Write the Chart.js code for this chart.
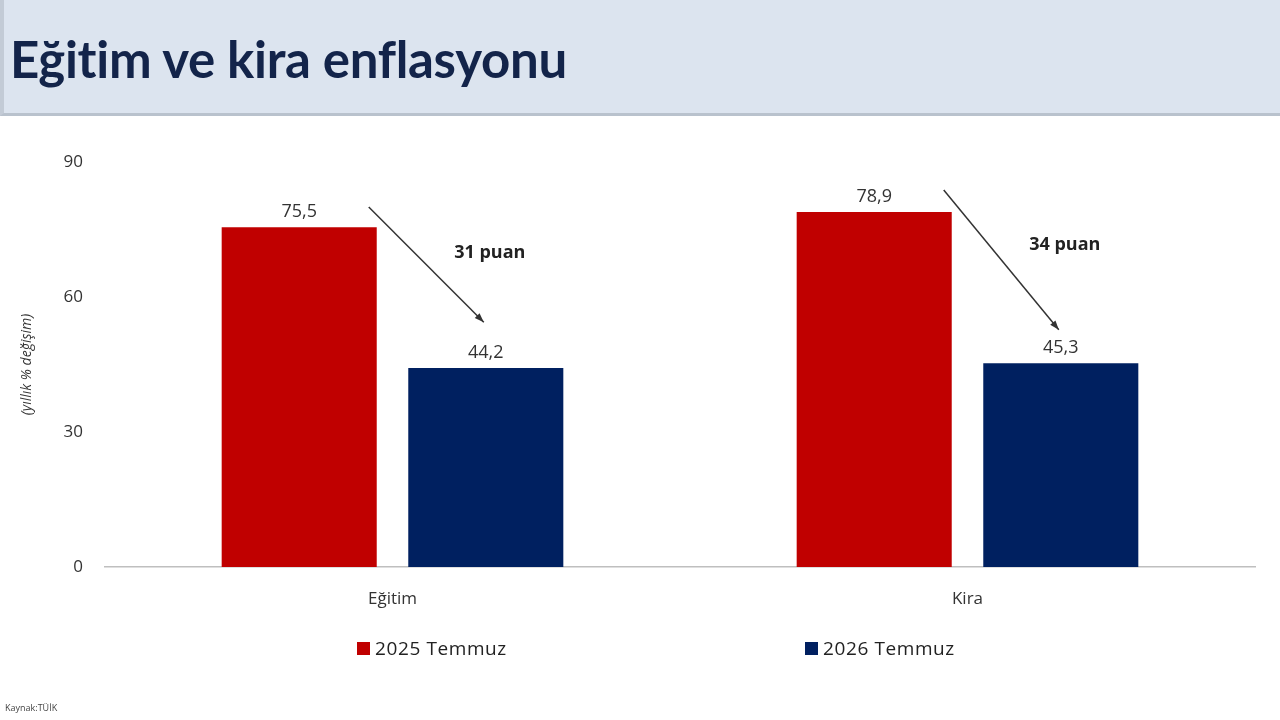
<!DOCTYPE html><html lang="tr"><meta charset="utf-8">
<title>Eğitim ve kira enflasyonu</title>
<script src="https://cdn.jsdelivr.net/npm/chart.js@4.4.1"></script>

<style>
*{box-sizing:border-box}
body{margin:0;width:1280px;height:720px;background:#fff;position:relative;overflow:hidden;font-family:"Open Sans","Noto Sans",sans-serif}
#head{position:absolute;left:0;top:0;width:1280px;height:116px;background:#dce4ef;border-bottom:3px solid #b9c2cd;border-left:4px solid #c3cbd6}
#head h1{margin:0;position:absolute;left:6px;top:28px;font:bold 51px Lato,"Open Sans",sans-serif;color:#13244a;letter-spacing:-0.3px}
#wrap{position:absolute;left:0;top:116px;width:1280px;height:604px}
#legend{position:absolute;top:635px;left:0;width:1280px;height:26px;font-size:19px;color:#222;letter-spacing:0.6px}
#legend span.item{position:absolute;display:flex;align-items:center;gap:5px}
#legend i{display:inline-block;width:13px;height:13px}
#src{position:absolute;left:5px;top:701px;font-size:9px;color:#444}
</style>

<body>
<div id="head"><h1>Eğitim ve kira enflasyonu</h1></div>
<div id="wrap"><canvas id="chart"></canvas></div>
<div id="legend"></div>
<div id="src">Kaynak:TÜİK</div>

<script>
// değerler
const categories = ['Eğitim','Kira'];
const seriesNames = ['2025 Temmuz','2026 Temmuz'];
const july2025 = [75.5, 78.9];
const july2026 = [44.2, 45.3];
const colors = ['#c00000','#002060'];
const yTicks = [0, 30, 60, 90];
// ok işaretleri: başlangıç / bitiş değerleri ve yazı
const arrowFrom = [80.0, 83.8];
const arrowTo   = [54.4, 52.7];
const arrowText = ['31 puan','34 puan'];
const arrowTextAt = [69.8, 71.6];
const legendLeft = [357, 805];

const fmt = v => v.toFixed(1).replace('.', ',');

const barLabels = {
  id:'barLabels',
  afterDatasetsDraw(chart){
    const {ctx} = chart;
    ctx.save();
    ctx.font = '18px "Open Sans",sans-serif';
    ctx.fillStyle = '#333';
    ctx.textAlign = 'center';
    ctx.textBaseline = 'bottom';
    chart.data.datasets.forEach((ds, di) => {
      chart.getDatasetMeta(di).data.forEach((el, i) => {
        ctx.fillText(fmt(ds.data[i]), el.x, el.y - 6);
      });
    });
    ctx.restore();
  }
};

const arrows = {
  id:'arrows',
  afterDatasetsDraw(chart){
    const {ctx} = chart, y = chart.scales.y;
    const m0 = chart.getDatasetMeta(0).data, m1 = chart.getDatasetMeta(1).data;
    ctx.save();
    categories.forEach((c, i) => {
      const x1 = m0[i].x + m0[i].width/2 - 8, y1 = y.getPixelForValue(arrowFrom[i]);
      const x2 = m1[i].x - 2, y2 = y.getPixelForValue(arrowTo[i]);
      ctx.strokeStyle = '#333'; ctx.fillStyle = '#333'; ctx.lineWidth = 1.5;
      ctx.beginPath(); ctx.moveTo(x1, y1); ctx.lineTo(x2, y2); ctx.stroke();
      const a = Math.atan2(y2 - y1, x2 - x1), L = 10;
      ctx.beginPath();
      ctx.moveTo(x2, y2);
      ctx.lineTo(x2 - L*Math.cos(a - 0.35), y2 - L*Math.sin(a - 0.35));
      ctx.lineTo(x2 - L*Math.cos(a + 0.35), y2 - L*Math.sin(a + 0.35));
      ctx.closePath(); ctx.fill();
      ctx.font = 'bold 18px "Open Sans",sans-serif';
      ctx.fillStyle = '#222';
      ctx.textAlign = 'center'; ctx.textBaseline = 'middle';
      ctx.fillText(arrowText[i], m1[i].x + 4, y.getPixelForValue(arrowTextAt[i]));
    });
    ctx.restore();
  }
};

const chart = new Chart(document.getElementById('chart'), {
  type:'bar',
  data:{
    labels:categories,
    datasets:[
      {label:seriesNames[0], data:july2025, backgroundColor:colors[0]},
      {label:seriesNames[1], data:july2026, backgroundColor:colors[1]}
    ]
  },
  options:{
    animation:false,
    responsive:true,
    maintainAspectRatio:false,
    layout:{padding:{top:46, right:25, left:0, bottom:0}},
    datasets:{bar:{categoryPercentage:0.649, barPercentage:0.831}},
    plugins:{legend:{display:false}, tooltip:{enabled:false}},
    scales:{
      x:{
        grid:{display:false},
        border:{display:true, color:'#bfbfbf', width:1.5},
        ticks:{padding:14, color:'#333', font:{size:17, family:'"Open Sans",sans-serif'}},
        afterFit(s){ s.height = 153; }
      },
      y:{
        min:0, max:90,
        afterBuildTicks(s){ s.ticks = yTicks.map(v => ({value:v})); },
        grid:{display:false, drawTicks:false},
        border:{display:false},
        ticks:{padding:22, color:'#333', font:{size:17, family:'"Open Sans",sans-serif'}},
        title:{display:true, text:'(yıllık % değişim)', color:'#333', padding:{top:19, bottom:0},
               font:{size:14, style:'italic', family:'"Open Sans",sans-serif'}},
        afterFit(s){ s.width = 105; }
      }
    }
  },
  plugins:[barLabels, arrows]
});

// lejant
const lg = document.getElementById('legend');
seriesNames.forEach((n, i) => {
  const s = document.createElement('span');
  s.className = 'item';
  s.style.left = legendLeft[i] + 'px';
  s.innerHTML = `<i style="background:${colors[i]}"></i>${n}`;
  lg.appendChild(s);
});
</script>
</body></html>
